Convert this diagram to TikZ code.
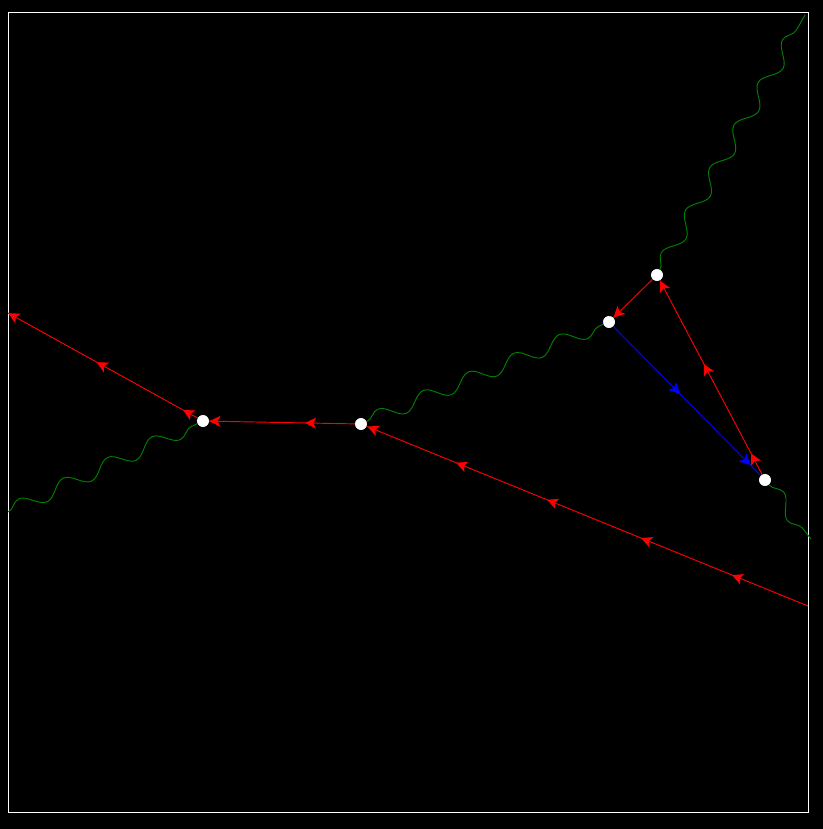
\documentclass[tikz,border=0pt]{standalone}
\usepackage{tikz}
\usetikzlibrary{arrows.meta}
\usetikzlibrary{decorations.markings}
\usetikzlibrary{decorations.pathmorphing}

\tikzset{
  vertex/.style={circle,fill=white,inner sep=0pt,minimum size=0.35cm},
  fermion/.style={red,line width=0.8pt},
  bluefermion/.style={blue,line width=0.8pt},
  photon/.style={green!50!black,line width=0.8pt,decorate,
    decoration={snake,amplitude=0.22cm,segment length=1.47cm}},
  arrowpos/.style={postaction={decorate,decoration={markings,
    mark=at position #1 with {\arrow{Stealth[length=3.3mm,width=3.3mm,inset=0.8mm]}}}}}
}

\begin{document}
\begin{tikzpicture}[x=0.03cm,y=-0.03cm]
	 \fill[black] (0,0) rectangle (823,829);
	 \draw[white,line width=0.6pt] (8,12) rectangle (808,812);
	 \node[vertex] (v1) at (203,421) {};
	 \node[vertex] (v2) at (361,424) {};
	 \node[vertex] (v3) at (609,322) {};
	 \node[vertex] (v4) at (657,275) {};
	 \node[vertex] (v5) at (765,480) {};
	 \coordinate (e1) at (8,313);
	 \coordinate (e2) at (8,512);
	 \coordinate (e3) at (808,606);
	 \coordinate (e4) at (805,15);
	 \coordinate (e5) at (811,539);
	 \draw[photon] (e2) -- (v1);
	 \draw[photon] (v2) -- (v3);
	 \draw[photon] (v4) -- (e4);
	 \draw[photon] (v5) -- (e5);
	 \draw[fermion,arrowpos/.list={0.077,0.532,0.998}] (v1) -- (e1);
	 \draw[fermion,arrowpos/.list={0.342,0.998}] (v2) -- (v1);
	 \draw[fermion,arrowpos/.list={0.172,0.378,0.591,0.797,0.998}] (e3) -- (v2);
	 \draw[fermion,arrowpos/.list={0.998}] (v4) -- (v3);
	 \draw[fermion,arrowpos/.list={0.109,0.569,0.998}] (v5) -- (v4);
	 \draw[bluefermion,arrowpos/.list={0.002,0.452,0.93}] (v3) -- (v5);
	 \node[vertex] at (v1) {};
	 \node[vertex] at (v2) {};
	 \node[vertex] at (v3) {};
	 \node[vertex] at (v4) {};
	 \node[vertex] at (v5) {};
\end{tikzpicture}
\end{document}
